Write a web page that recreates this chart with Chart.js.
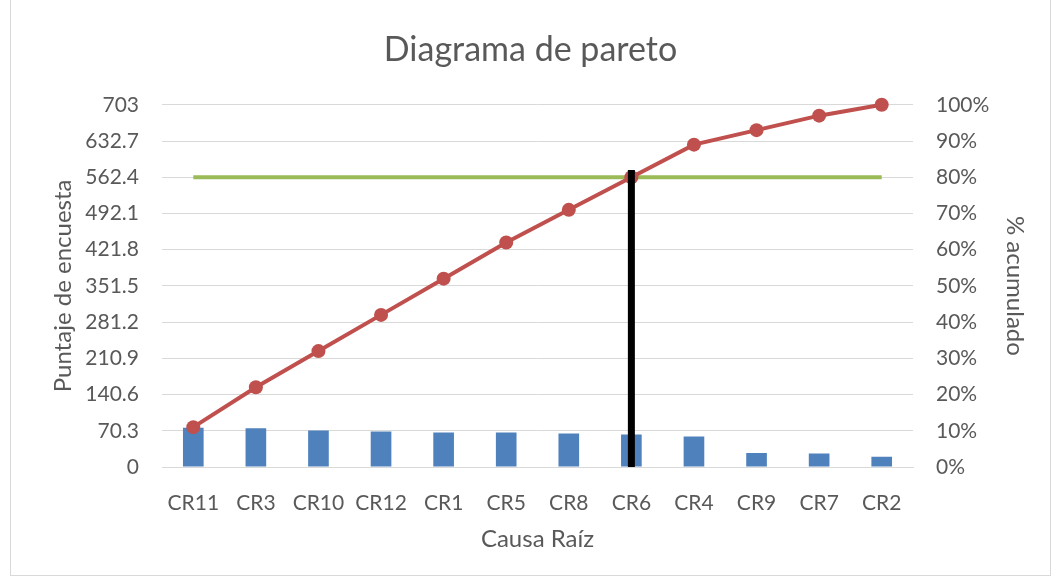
<!DOCTYPE html>
<html>
<head>
<meta charset="utf-8">
<script src="https://cdn.jsdelivr.net/npm/chart.js@4/dist/chart.umd.min.js"></script>
<style>
  body { margin: 0; background: #fff; }
  #wrap { position: relative; width: 1061px; height: 581px; }
  #frame { position: absolute; left: 10px; top: -1px; width: 1039px; height: 575px; border: 1px solid #d9d9d9; }
  canvas { position: absolute; left: 0; top: 0; }
</style>
</head>
<body>
<div id="wrap">
  <div id="frame"></div>
  <canvas id="chart" width="1061" height="581"></canvas>
</div>
<script>
const causes = ["CR11", "CR3", "CR10", "CR12", "CR1", "CR5", "CR8", "CR6", "CR4", "CR9", "CR7", "CR2"];
const scores = [76, 75, 71, 69, 67, 67, 65, 63, 59, 27, 26, 20];
const cumulativePct = [11, 22, 32, 42, 52, 62, 71, 80, 89, 93, 97, 100];
const thresholdPct = [80, 80, 80, 80, 80, 80, 80, 80, 80, 80, 80, 80];
const cutoffCause = "CR6";
const cutoffTopPct = 82;
const leftTicks = [0, 70.3, 140.6, 210.9, 281.2, 351.5, 421.8, 492.1, 562.4, 632.7, 703];

const textColor = "#595959";
const font = "Lato, 'Open Sans', sans-serif";

new Chart(document.getElementById("chart"), {
  data: {
    labels: causes,
    datasets: [
      {
        type: "line",
        data: [{ x: cutoffCause, y: 0 }, { x: cutoffCause, y: cutoffTopPct }],
        yAxisID: "y2",
        borderColor: "#000000",
        borderWidth: 7,
        pointRadius: 0,
        order: 0
      },
      {
        type: "line",
        label: "% acumulado",
        data: cumulativePct,
        yAxisID: "y2",
        borderColor: "#c0504d",
        backgroundColor: "#c0504d",
        borderWidth: 4,
        pointRadius: 7,
        pointBorderWidth: 0,
        clip: false,
        order: 1
      },
      {
        type: "line",
        data: thresholdPct,
        yAxisID: "y2",
        borderColor: "#9bbb59",
        borderWidth: 4,
        pointRadius: 0,
        order: 2
      },
      {
        type: "bar",
        label: "Puntaje",
        data: scores,
        yAxisID: "y",
        backgroundColor: "#4f81bd",
        barPercentage: 0.6,
        categoryPercentage: 0.55,
        order: 3
      }
    ]
  },
  options: {
    responsive: false,
    animation: false,
    layout: { padding: { left: 0, right: 0, top: 0, bottom: 0 } },
    plugins: {
      legend: { display: false },
      tooltip: { enabled: false },
      title: {
        display: true,
        text: "Diagrama de pareto",
        color: textColor,
        font: { family: font, size: 34, weight: "normal" },
        padding: { top: 30, bottom: 34 }
      }
    },
    scales: {
      x: {
        grid: { display: false },
        border: { display: true, color: "#d9d9d9", width: 1 },
        ticks: { color: textColor, font: { family: font, size: 21 }, padding: 16, maxRotation: 0 },
        title: { display: true, text: "Causa Raíz", color: textColor, font: { family: font, size: 24 }, padding: { top: 0, bottom: 27 } },
        afterFit(scale) { scale.height = 114; }
      },
      y: {
        position: "left",
        min: 0,
        max: 703,
        afterBuildTicks(scale) { scale.ticks = leftTicks.map((v) => ({ value: v })); },
        grid: { color: "#d9d9d9", drawTicks: false },
        border: { display: false },
        ticks: { color: textColor, font: { family: font, size: 21 }, padding: 23 },
        title: { display: true, text: "Puntaje de encuesta", color: textColor, font: { family: font, size: 24 }, padding: { top: 49, bottom: 0 } },
        afterFit(scale) { scale.width = 162; }
      },
      y2: {
        position: "right",
        min: 0,
        max: 100,
        ticks: { stepSize: 10, color: textColor, font: { family: font, size: 21 }, padding: 23, callback: (v) => v + "%" },
        grid: { drawOnChartArea: false, drawTicks: false },
        border: { display: false },
        title: { display: true, text: "% acumulado", color: textColor, font: { family: font, size: 24 }, padding: { top: 32, bottom: 0 } },
        afterFit(scale) { scale.width = 148; }
      }
    }
  }
});
</script>
</body>
</html>
